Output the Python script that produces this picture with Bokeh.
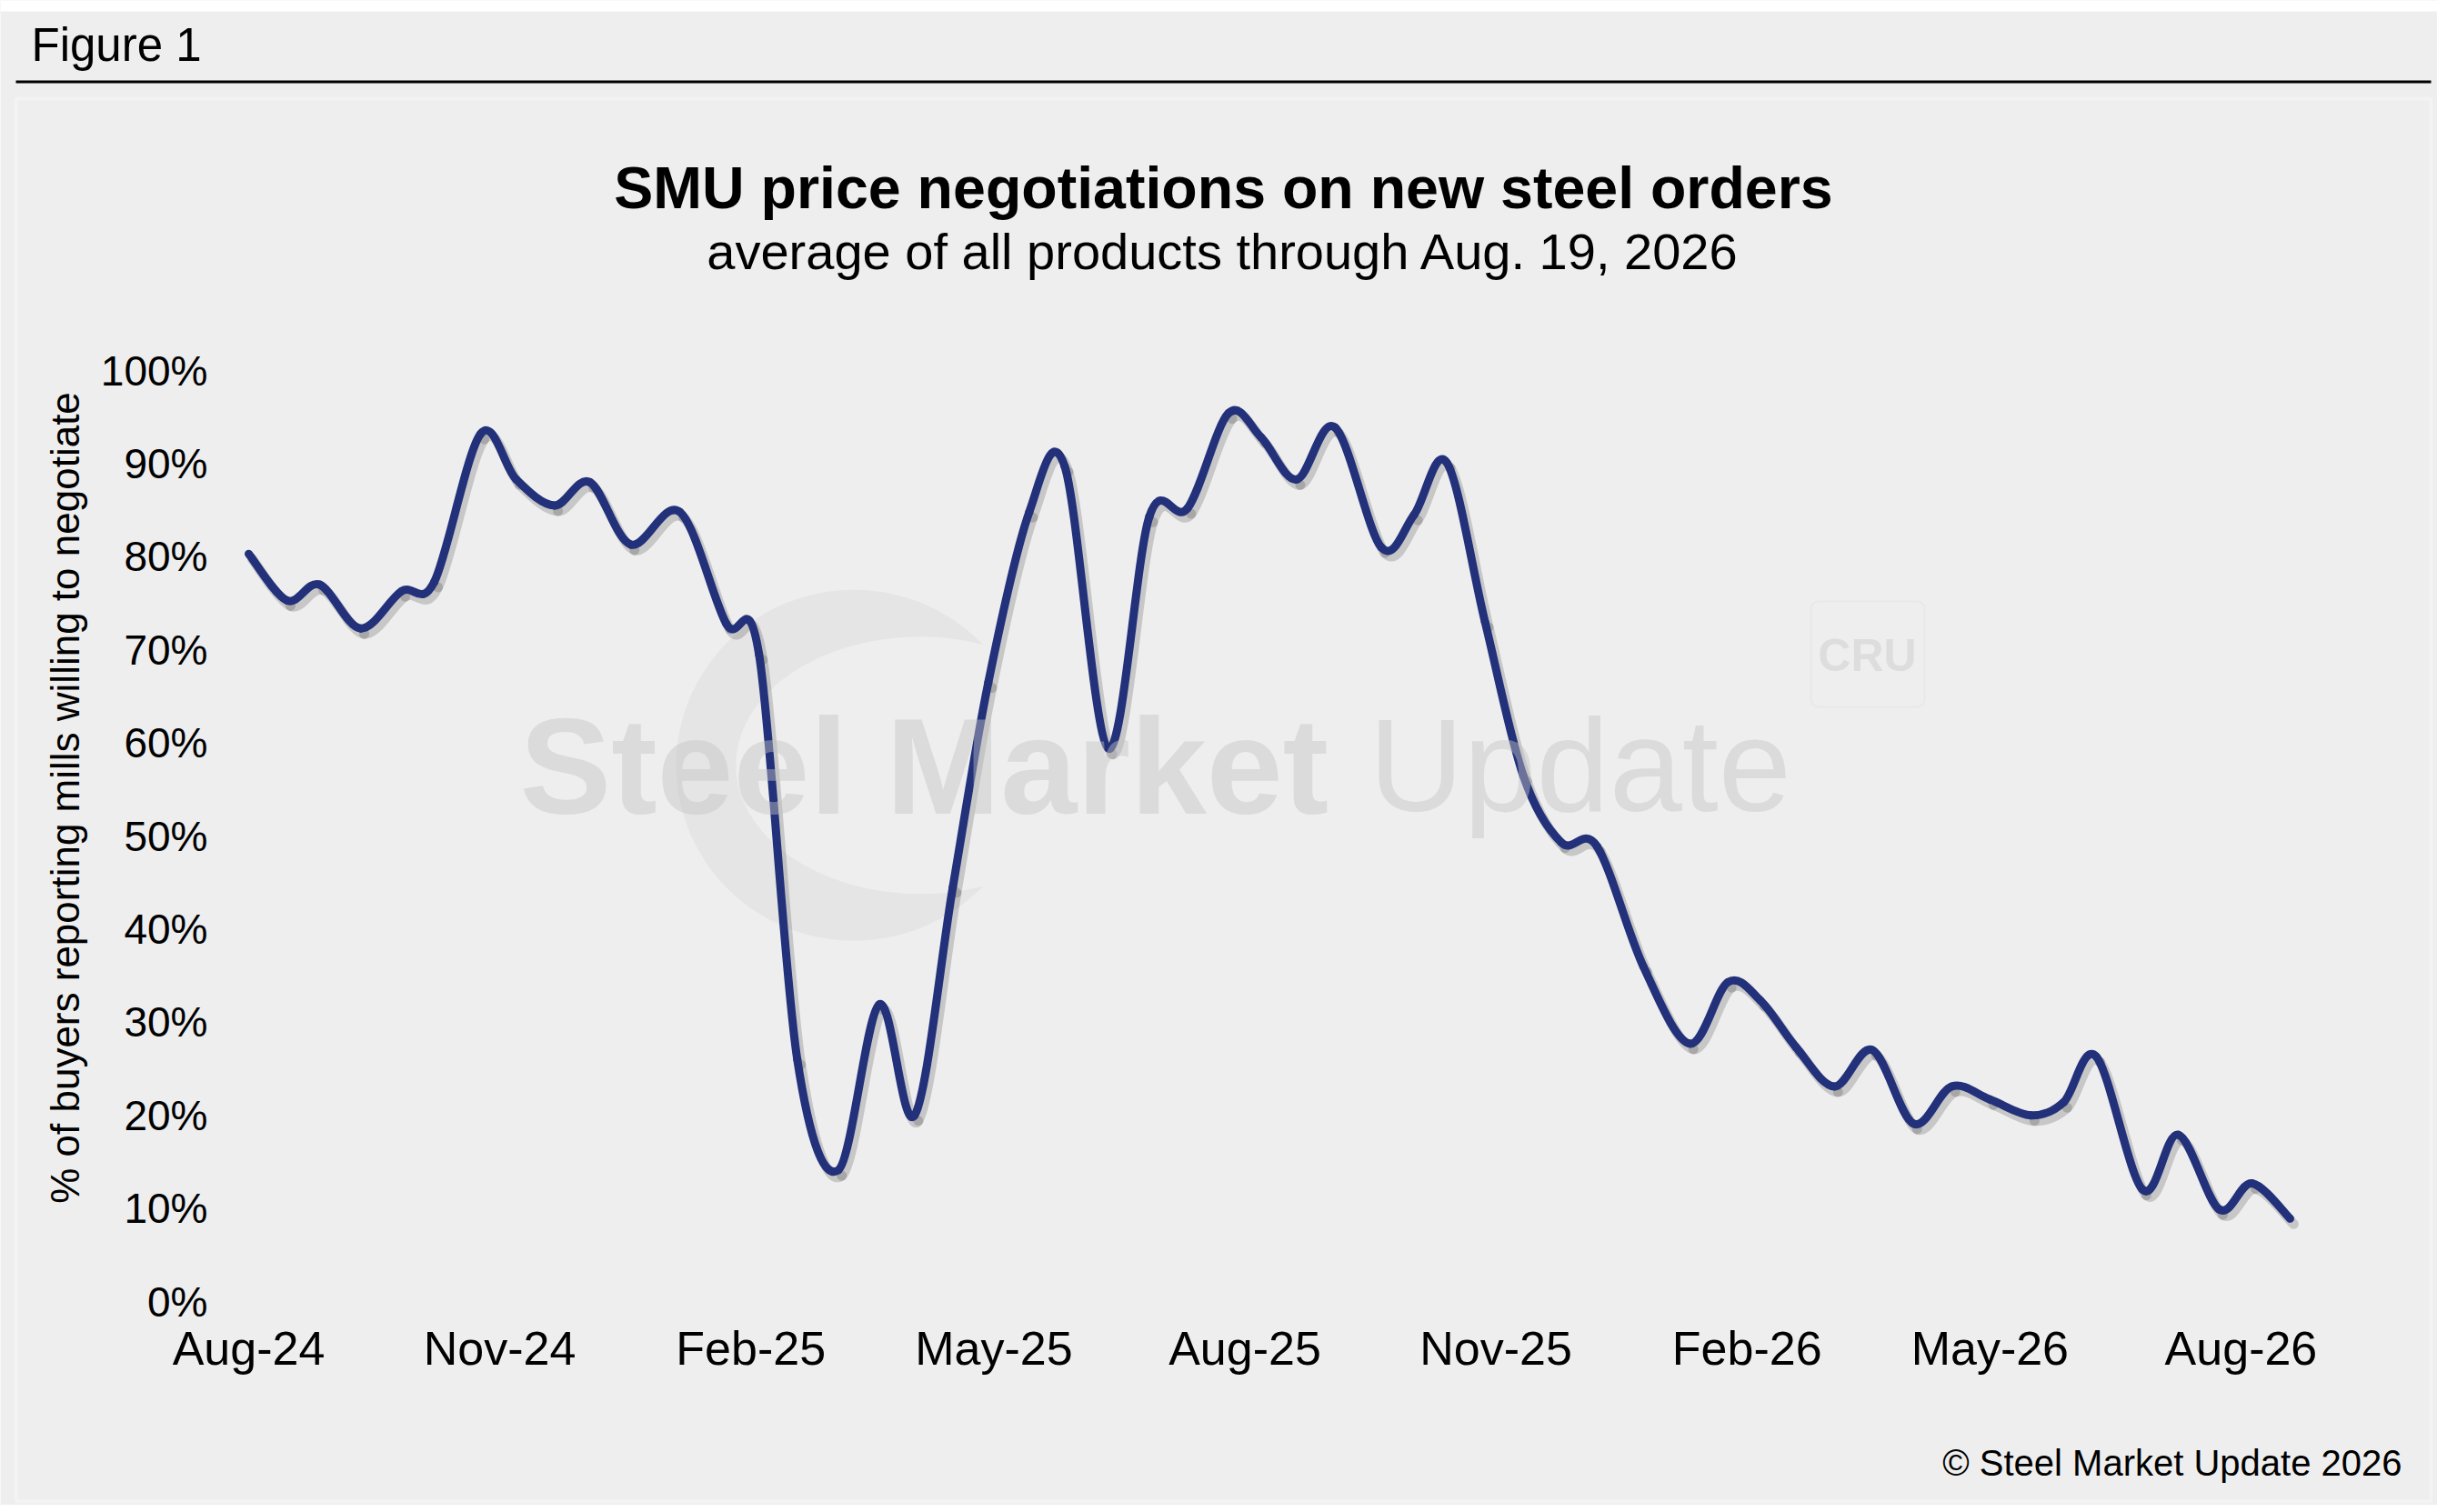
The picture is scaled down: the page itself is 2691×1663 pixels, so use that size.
import numpy as np
import pandas as pd
from bokeh.plotting import figure
from bokeh.models import (Range1d, FixedTicker, DatetimeTickFormatter, PrintfTickFormatter,
                          Label, BoxAnnotation, ColumnDataSource)
from bokeh.embed import file_html
from bokeh.resources import INLINE

# SMU survey dates and % of buyers reporting mills willing to negotiate
survey_dates = [
    "2024-08-01", "2024-08-15", "2024-08-27", "2024-09-11", "2024-09-26", "2024-10-08",
    "2024-10-25", "2024-11-07", "2024-11-21", "2024-12-04", "2024-12-19", "2025-01-06",
    "2025-01-23", "2025-02-04", "2025-02-18", "2025-03-05", "2025-03-20", "2025-04-02",
    "2025-04-16", "2025-04-29", "2025-05-14", "2025-05-27", "2025-06-12", "2025-06-27",
    "2025-07-11", "2025-07-26", "2025-08-07", "2025-08-20", "2025-09-03", "2025-09-20",
    "2025-10-02", "2025-10-14", "2025-10-28", "2025-11-11", "2025-11-25", "2025-12-08",
    "2025-12-25", "2026-01-11", "2026-01-25", "2026-02-06", "2026-02-19", "2026-03-05",
    "2026-03-19", "2026-04-03", "2026-04-17", "2026-05-01", "2026-05-16", "2026-05-28",
    "2026-06-09", "2026-06-26", "2026-07-09", "2026-07-24", "2026-08-05", "2026-08-19",
]
pct_negotiating = [
    80.3, 75.3, 77.0, 72.3, 76.3, 77.3,
    93.2, 88.3, 85.5, 88.0, 81.3, 84.8,
    72.8, 69.5, 26.0, 14.1, 31.9, 20.0,
    44.5, 66.5, 84.8, 89.7, 59.4, 84.3,
    85.2, 95.4, 92.8, 88.3, 93.9, 81.0,
    84.5, 90.1, 73.0, 56.5, 49.3, 48.9,
    36.0, 27.7, 34.3, 32.3, 27.3, 23.1,
    27.0, 19.1, 23.1, 21.7, 20.0, 21.4,
    26.3, 12.0, 17.9, 9.9, 12.7, 8.9,
]
tick_dates = ["2024-08-01", "2024-11-01", "2025-02-01", "2025-05-01", "2025-08-01",
              "2025-11-01", "2026-02-01", "2026-05-01", "2026-08-01"]
y_ticks = [0, 10, 20, 30, 40, 50, 60, 70, 80, 90, 100]
x_start, x_end = "2024-08-01", "2026-09-01"

header = "Figure 1"
title = "SMU price negotiations on new steel orders"
subtitle = "average of all products through Aug. 19, 2026"
y_title = "% of buyers reporting mills willing to negotiate"
credit = "\u00a9 Steel Market Update 2026"

# watermark logo swoosh, placed in chart terms
swoosh_date, swoosh_y = "2025-03-10 19:00", 57.6
swoosh_inner_date = "2025-04-04"

FONT = "Liberation Sans"
BG = "#eeeeee"
NAVY = "#22317a"
W, H = 2680, 1655
# plot area inside the canvas (pixels)
PLOT_L, PLOT_R, PLOT_T, PLOT_B = 273, 2557, 407, 1431


def to_ms(d):
    return pd.to_datetime(pd.Series(d)).values.astype("datetime64[ms]").astype("int64").astype(float)


x = to_ms(survey_dates)
y = np.array(pct_negotiating, dtype=float)

# Excel-like smoothed line: one cubic bezier per segment (catmull-rom control points)
xp = np.concatenate([[x[0]], x, [x[-1]]])
yp = np.concatenate([[y[0]], y, [y[-1]]])
n = len(x)
seg = dict(
    x0=xp[1:n], y0=yp[1:n], x1=xp[2:n + 1], y1=yp[2:n + 1],
    cx0=xp[1:n] + (xp[2:n + 1] - xp[0:n - 1]) / 6, cy0=yp[1:n] + (yp[2:n + 1] - yp[0:n - 1]) / 6,
    cx1=xp[2:n + 1] - (xp[3:n + 2] - xp[1:n]) / 6, cy1=yp[2:n + 1] - (yp[3:n + 2] - yp[1:n]) / 6,
)

# the frame fills the whole canvas; ranges are widened so the data area sits where
# the reference plot area is, and the axes are pinned inside at fixed locations
x0, x1 = to_ms([x_start, x_end])
xs = (x1 - x0) / (PLOT_R - PLOT_L)
ys = 100.0 / (PLOT_B - PLOT_T)
x_range = Range1d(x0 - PLOT_L * xs, x1 + (W - PLOT_R) * xs)
y_range = Range1d(-(H - PLOT_B) * ys, 100 + PLOT_T * ys)

# soft drop shadow, a few pixels down and right
dx, dy = 4 * xs, 6 * ys
shadow = {k: (v + dx if k.startswith(("x", "cx")) else v - dy) for k, v in seg.items()}

p = figure(width=W, height=H, x_axis_type="datetime", x_range=x_range, y_range=y_range,
           output_backend="svg", toolbar_location=None, min_border=0,
           background_fill_color=BG, border_fill_color=BG, outline_line_color=None)
p.title.visible = False

# faint logo swoosh behind the line
p.ellipse(x=to_ms([swoosh_date]), y=[swoosh_y], width=391, height=386,
          width_units="screen", height_units="screen", fill_color="#e5e5e5", line_color=None)
p.ellipse(x=to_ms([swoosh_inner_date]), y=[swoosh_y], width=405, height=283,
          width_units="screen", height_units="screen", fill_color=BG, line_color=None)

p.bezier(source=ColumnDataSource(shadow), x0="x0", y0="y0", x1="x1", y1="y1",
         cx0="cx0", cy0="cy0", cx1="cx1", cy1="cy1",
         line_color="#000000", line_alpha=0.16, line_width=11, line_cap="round")
p.bezier(source=ColumnDataSource(seg), x0="x0", y0="y0", x1="x1", y1="y1",
         cx0="cx0", cy0="cy0", cx1="cx1", cy1="cy1",
         line_color=NAVY, line_width=9, line_cap="round")

p.xaxis.fixed_location = 0
p.yaxis.fixed_location = x0
p.xaxis.ticker = FixedTicker(ticks=list(to_ms(tick_dates)))
p.xaxis.formatter = DatetimeTickFormatter(days="%b-%y", months="%b-%y", years="%b-%y")
p.yaxis.ticker = FixedTicker(ticks=y_ticks)
p.yaxis.formatter = PrintfTickFormatter(format="%d%%")
for ax in (p.xaxis, p.yaxis):
    ax.axis_line_color = None
    ax.major_tick_line_color = None
    ax.minor_tick_line_color = None
    ax.major_label_text_font = FONT
    ax.major_label_text_color = "black"
p.xaxis.major_label_text_font_size = "52px"
p.xaxis.major_label_standoff = 16
p.yaxis.major_label_text_font_size = "46px"
p.yaxis.major_label_standoff = 39
p.xgrid.visible = False
p.ygrid.visible = False


def canvas_label(x, y, text, size, **kw):
    opts = dict(x=x, y=y, x_units="canvas", y_units="canvas", text=text, text_font=FONT,
                text_font_size=size, text_color="black", text_baseline="middle")
    opts.update(kw)
    p.add_layout(Label(**opts))


def canvas_box(left, top, right, bottom, **kw):
    p.add_layout(BoxAnnotation(left=left, right=right, top=top, bottom=bottom,
                               left_units="canvas", right_units="canvas",
                               top_units="canvas", bottom_units="canvas", **kw))


# page strip, header and panel frame
canvas_box(0, 0, W, 12, fill_color="white", fill_alpha=1, line_color=None)
canvas_label(34, 49, header, "51px")
canvas_box(17, 88, 2673, 91, fill_color="black", fill_alpha=1, line_color=None)
canvas_box(17, 108, 2673, 1651, fill_alpha=0, line_color="white", line_width=4)

# watermark text on top of the line, semi transparent
canvas_label(571, 842, "Steel Market", "151px", text_font_style="bold",
             text_color="#c4c4c4", text_alpha=0.45)
canvas_label(1505, 842, "Update", "144px", text_color="#c4c4c4", text_alpha=0.45)
canvas_box(1991, 661, 2116, 777, fill_alpha=0, line_color="#dcdcdc", line_width=2,
           border_radius=8)
canvas_label(2053, 720, "CRU", "50px", text_font_style="bold", text_align="center",
             text_color="#dddddd")

# titles
canvas_label(1345, 206, title, "64.5px", text_font_style="bold", text_align="center")
canvas_label(1345, 276, subtitle, "56px", text_align="center")
canvas_label(71, 877, y_title, "44px", angle=np.pi / 2, text_align="center")
canvas_label(2641, 1608, credit, "40px", text_align="right")

open("out.html", "w").write(file_html(p, INLINE))
